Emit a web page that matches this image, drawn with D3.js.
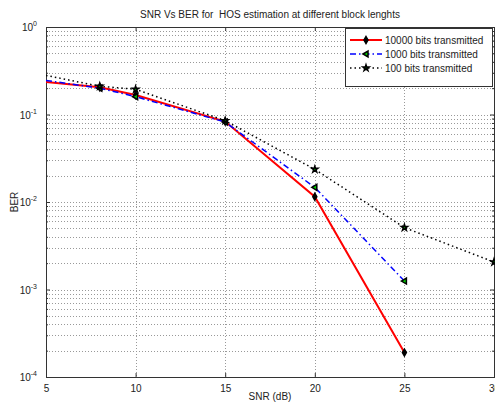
<!DOCTYPE html>
<html>
<head>
<meta charset="utf-8">
<script src="https://cdn.jsdelivr.net/npm/d3@7"></script>
<style>
  body { margin: 0; background: #fff; }
  text { font-family: "Liberation Sans", Arial, sans-serif; fill: #222; }
</style>
</head>
<body>
<svg id="main-svg" width="495" height="403"></svg>
<script>
// values
var snr10000 = [5, 8, 10, 15, 20, 25];
var ber10000 = [0.235, 0.205, 0.167, 0.083, 0.0115, 0.00019];
var snr1000 = [5, 8, 10, 15, 20, 25];
var ber1000 = [0.245, 0.2, 0.16, 0.082, 0.0147, 0.00125];
var snr100 = [5, 8, 10, 15, 20, 25, 30];
var ber100 = [0.28, 0.21, 0.194, 0.085, 0.0236, 0.0051, 0.00206];
var seriesNames = ["10000 bits transmitted", "1000 bits transmitted", "100 bits transmitted"];
var xTicks = [5, 10, 15, 20, 25, 30];
var yTicks = [1e-4, 1e-3, 1e-2, 1e-1, 1];
var yExps = ["-4", "-3", "-2", "-1", "0"];

var svg = d3.select("#main-svg");
var pLeft = 46, pRight = 494, pTop = 27, pBottom = 377;

var x = d3.scaleLinear().domain([5, 30]).range([pLeft, pRight]);
var y = d3.scaleLog().domain([1e-4, 1]).range([pBottom, pTop]);

var defs = svg.append("defs");
defs.append("clipPath").attr("id", "plotclip")
  .append("rect").attr("x", pLeft).attr("y", pTop).attr("width", pRight - pLeft).attr("height", pBottom - pTop);

// grid
var minors = [];
yTicks.slice(0, 4).forEach(function(d) {
  for (var k = 1; k < 10; k++) minors.push(d * k);
});
var grid = svg.append("g");
grid.selectAll("line.hy").data(minors).enter().append("line")
  .attr("x1", pLeft).attr("x2", pRight)
  .attr("y1", function(d) { return Math.round(y(d)) + 0.5; })
  .attr("y2", function(d) { return Math.round(y(d)) + 0.5; })
  .style("stroke", "#999").style("stroke-width", 1).style("stroke-dasharray", "1,2");
grid.selectAll("line.vx").data(xTicks).enter().append("line")
  .attr("y1", pTop).attr("y2", pBottom)
  .attr("x1", function(d) { return Math.round(x(d)) + 0.5; })
  .attr("x2", function(d) { return Math.round(x(d)) + 0.5; })
  .style("stroke", "#999").style("stroke-width", 1).style("stroke-dasharray", "1,2");

// axes with inward ticks
var gx = svg.append("g").attr("transform", "translate(0," + pBottom + ")")
  .call(d3.axisBottom(x).tickValues(xTicks).tickSizeInner(-4).tickSizeOuter(0).tickFormat(d3.format("d")).tickPadding(8));
gx.selectAll("text").style("font-size", "10px").style("fill", "#222").style("font-family", "Liberation Sans, Arial, sans-serif");
svg.append("g").attr("transform", "translate(0," + pTop + ")")
  .call(d3.axisTop(x).tickValues(xTicks).tickSizeInner(-4).tickSizeOuter(0).tickFormat(""));

var yTickVals = minors.concat([1]);
svg.append("g").attr("class", "yl").attr("transform", "translate(" + pLeft + ",0)")
  .call(d3.axisLeft(y).tickValues(yTickVals).tickSizeOuter(0).tickSizeInner(-4).tickFormat(""));
svg.append("g").attr("class", "yr").attr("transform", "translate(" + pRight + ",0)")
  .call(d3.axisRight(y).tickValues(yTickVals).tickSizeOuter(0).tickSizeInner(-4).tickFormat(""));
svg.selectAll(".domain").remove();
svg.selectAll(".tick line").style("stroke", "#333");
svg.selectAll(".yl .tick, .yr .tick").filter(function(d) { return yTicks.indexOf(d) < 0; })
  .select("line").attr("x2", function() { return +d3.select(this).attr("x2") / 2; });

// y tick labels 10^n
var ylab = svg.append("g");
yTicks.forEach(function(d, i) {
  var t = ylab.append("text").attr("x", 37).attr("y", y(d) + 4)
    .attr("text-anchor", "end").style("font-size", "10px");
  t.append("tspan").text("10");
  t.append("tspan").attr("dy", -5).style("font-size", "7px").text(yExps[i]);
});

// box
svg.append("rect").attr("x", pLeft + 0.5).attr("y", pTop + 0.5)
  .attr("width", pRight - pLeft).attr("height", pBottom - pTop)
  .style("fill", "none").style("stroke", "#333").style("stroke-width", 1);

// series
var series = [
  { name: seriesNames[0], xs: snr10000, ys: ber10000, color: "#ff0000", width: 2, dash: null,
    sym: d3.symbolDiamond, size: 14, fill: "#000" },
  { name: seriesNames[1], xs: snr1000, ys: ber1000, color: "#0000ff", width: 1.5, dash: "6,3,1.5,3",
    sym: "tri", size: 0, fill: "#00cc00" },
  { name: seriesNames[2], xs: snr100, ys: ber100, color: "#000", width: 1.5, dash: "1.5,3",
    sym: d3.symbolStar, size: 12, fill: "#00aa00" }
];

var line = d3.line().x(function(d) { return x(d[0]); }).y(function(d) { return y(d[1]); });

function marker(g, s) {
  if (s.sym === "tri") {
    g.append("path").attr("d", "M-3,0L2,-3L2,3Z")
      .style("fill", s.fill).style("stroke", "#000").style("stroke-width", 1.5);
  } else {
    g.append("path").attr("d", d3.symbol().type(s.sym).size(s.size)())
      .style("fill", s.fill).style("stroke", "#000").style("stroke-width", 1.5);
  }
}

var plot = svg.append("g").attr("clip-path", "url(#plotclip)");
series.forEach(function(s) {
  var pts = s.xs.map(function(v, i) { return [v, s.ys[i]]; });
  plot.append("path").datum(pts).attr("d", line)
    .style("fill", "none").style("stroke", s.color).style("stroke-width", s.width)
    .style("stroke-dasharray", s.dash);
});
series.forEach(function(s) {
  var pts = s.xs.map(function(v, i) { return [v, s.ys[i]]; }).filter(function(p) { return p[0] > 5; });
  pts.forEach(function(p) {
    var g = svg.append("g").attr("transform", "translate(" + x(p[0]) + "," + y(p[1]) + ")");
    marker(g, s);
  });
});

// legend
var lg = svg.append("g");
lg.append("rect").attr("x", 345.5).attr("y", 28.5).attr("width", 147).attr("height", 58)
  .style("fill", "#fff").style("stroke", "#333").style("stroke-width", 1);
series.forEach(function(s, i) {
  var ly = 40 + i * 14;
  lg.append("line").attr("x1", 350).attr("x2", 382).attr("y1", ly).attr("y2", ly)
    .style("stroke", s.color).style("stroke-width", s.width).style("stroke-dasharray", s.dash);
  marker(lg.append("g").attr("transform", "translate(366," + ly + ")"), s);
  lg.append("text").attr("x", 385).attr("y", ly + 4).style("font-size", "10px").text(s.name);
});

// titles
svg.append("text").attr("x", (pLeft + pRight) / 2).attr("y", 18).attr("text-anchor", "middle")
  .style("font-size", "10px").style("white-space", "pre")
  .text("SNR Vs BER for  HOS estimation at different block lenghts");
svg.append("text").attr("x", (pLeft + pRight) / 2).attr("y", 400).attr("text-anchor", "middle")
  .style("font-size", "10px").text("SNR (dB)");
svg.append("text").attr("transform", "translate(18," + ((pTop + pBottom) / 2) + ") rotate(-90)")
  .attr("text-anchor", "middle").style("font-size", "10px").text("BER");
</script>
</body>
</html>
